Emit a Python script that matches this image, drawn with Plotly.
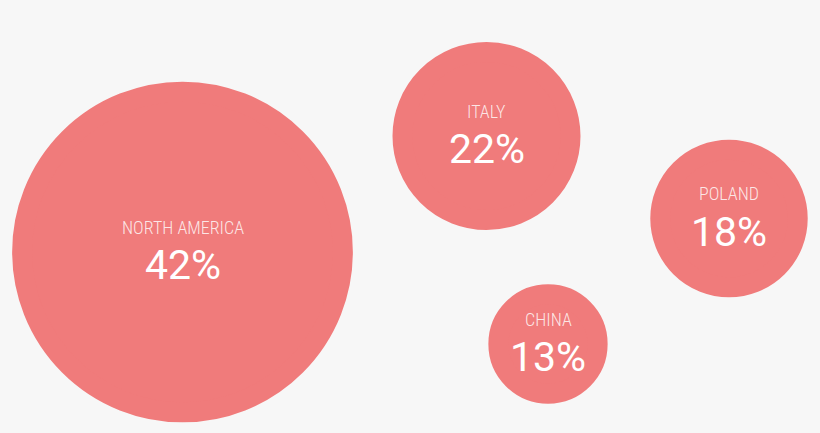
import plotly.graph_objects as go

# ---- data ----
regions = ["NORTH AMERICA", "ITALY", "POLAND", "CHINA"]
shares = [42, 22, 18, 13]          # percent
# bubble placement on an abstract 820 x 433 canvas
pos_x = [182.5, 486.5, 729, 548]
pos_y = [252, 136, 218.5, 344]

# ---- style ----
BUBBLE = "#F07B7B"
BG = "#F7F7F7"

fig = go.Figure()
fig.add_trace(go.Scatter(
    x=pos_x, y=pos_y, mode="markers",
    marker=dict(
        size=shares, sizemode="diameter", sizeref=1 / 7.636,
        color=BUBBLE, opacity=1,
        line=dict(color=BUBBLE, width=20),
    ),
    hoverinfo="skip", showlegend=False,
))

for name, s, x, y in zip(regions, shares, pos_x, pos_y):
    fig.add_annotation(
        x=x, y=y, text=name, showarrow=False, yshift=25,
        font=dict(family="Roboto Condensed, Liberation Sans Narrow, Roboto", size=18,
                  color="rgba(255,255,255,0.82)", weight=300),
    )
    fig.add_annotation(
        x=x, y=y, text=f"{s}%", showarrow=False, yshift=-13,
        font=dict(family="Roboto", size=41, color="white", weight=400),
    )

fig.update_layout(
    width=820, height=433,
    margin=dict(l=0, r=0, t=0, b=0),
    paper_bgcolor=BG, plot_bgcolor=BG,
    xaxis=dict(range=[0, 820], visible=False, fixedrange=True),
    yaxis=dict(range=[433, 0], visible=False, fixedrange=True),
)

fig.write_html(
    "out.html",
    config={"displayModeBar": False, "staticPlot": True},
    post_script="document.body.style.margin='0';document.body.style.background='#F7F7F7';",
)
